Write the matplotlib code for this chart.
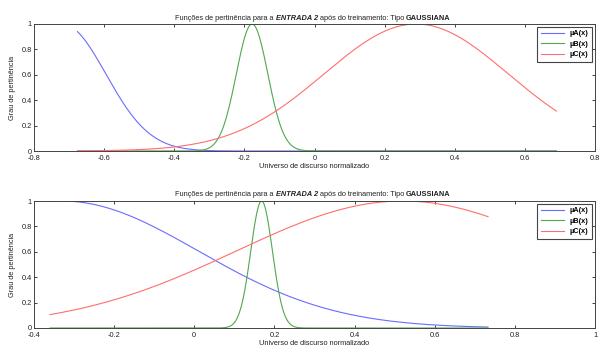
import numpy as np
import matplotlib
matplotlib.use("Agg")
import matplotlib.pyplot as plt

plt.rcParams['font.family'] = ['Liberation Sans', 'DejaVu Sans']

# Gaussian membership parameters after training (centre, sigma) for each panel
labels = ["µA(x)", "µB(x)", "µC(x)"]
colors = ["#6b6bff", "#4fa84f", "#ff6e6e"]

top_centers = [-0.72, -0.178, 0.29]
top_sigmas = [0.125, 0.045, 0.263]
top_domain = [-0.676, 0.69]
top_xlim = [-0.8, 0.8]
top_xticks = [-0.8, -0.6, -0.4, -0.2, 0, 0.2, 0.4, 0.6, 0.8]
top_xticklabels = ["-0.8", "-0.6", "-0.4", "-0.2", "0", "0.2", "0.4", "0.6", "0.8"]

bot_centers = [-0.33, 0.168, 0.52]
bot_sigmas = [0.34, 0.027, 0.415]
bot_domain = [-0.36, 0.733]
bot_xlim = [-0.4, 1.0]
bot_xticks = [-0.4, -0.2, 0, 0.2, 0.4, 0.6, 0.8, 1.0]
bot_xticklabels = ["-0.4", "-0.2", "0", "0.2", "0.4", "0.6", "0.8", "1"]

yticks = [0, 0.2, 0.4, 0.6, 0.8, 1]
yticklabels = ["0", "0.2", "0.4", "0.6", "0.8", "1"]

W, H = 600, 347
fig = plt.figure(figsize=(W / 100, H / 100), dpi=100)

FS = 5.3


def gauss(x, c, s):
    return np.exp(-((x - c) ** 2) / (2 * s ** 2))


def panel(rect, centers, sigmas, domain, xlim, xticks, xticklabels):
    ax = fig.add_axes(rect)
    x = np.linspace(domain[0], domain[1], 600)
    for c, s, col, lab in zip(centers, sigmas, colors, labels):
        ax.plot(x, gauss(x, c, s), color=col, lw=0.8, label=lab)
    ax.set_xlim(xlim)
    ax.set_ylim(0, 1)
    ax.set_xticks(xticks)
    ax.set_xticklabels(xticklabels)
    ax.set_yticks(yticks)
    ax.set_yticklabels(yticklabels)
    ax.tick_params(direction='in', top=True, right=True, length=2.5,
                   width=0.6, labelsize=FS, pad=1.5, colors='#222222')
    ax.tick_params(axis='x', pad=2.8)
    for sp in ax.spines.values():
        sp.set_linewidth(0.7)
        sp.set_color('#444444')
    ax.set_xlabel("Universo de discurso normalizado", fontsize=FS, labelpad=0.5, color='#222222')
    ax.set_ylabel("Grau de pertinência", fontsize=FS, labelpad=4, color='#222222')
    leg = ax.legend(loc='upper right', handlelength=3.2,
                    borderpad=0.5, labelspacing=0.45, handletextpad=0.8,
                    fancybox=False, framealpha=1, borderaxespad=0.35,
                    prop={'weight': 'bold', 'size': FS})
    leg.get_frame().set_edgecolor('#444444')
    leg.get_frame().set_linewidth(0.8)
    return ax


def rect_px(left, top, right, bottom):
    return [left / W, 1 - bottom / H, (right - left) / W, (bottom - top) / H]


ax1 = panel(rect_px(34, 24, 595, 151), top_centers, top_sigmas, top_domain,
            top_xlim, top_xticks, top_xticklabels)
ax2 = panel(rect_px(34, 201, 595, 328), bot_centers, bot_sigmas, bot_domain,
            bot_xlim, bot_xticks, bot_xticklabels)

# Title in pieces: plain, bold italic, plain, bold
pieces = [("Funções de pertinência para a ", 'normal', 'normal'),
          ("ENTRADA 2", 'bold', 'italic'),
          (" após do treinamento: Tipo ", 'normal', 'normal'),
          ("GAUSSIANA", 'bold', 'normal')]


def title(cx_px, y_px):
    texts = []
    for s, w, st in pieces:
        t = fig.text(0, 1 - y_px / H, s, fontsize=FS, fontweight=w, fontstyle=st,
                     ha='left', va='baseline', color='#222222')
        texts.append(t)
    fig.canvas.draw()
    r = fig.canvas.get_renderer()
    widths = [t.get_window_extent(r).width for t in texts]
    total = sum(widths)
    x = cx_px - total / 2
    for t, w in zip(texts, widths):
        t.set_x(x / W)
        x += w


title(313, 20)
title(313, 196)

fig.savefig("out.png", dpi=100, facecolor='white')
